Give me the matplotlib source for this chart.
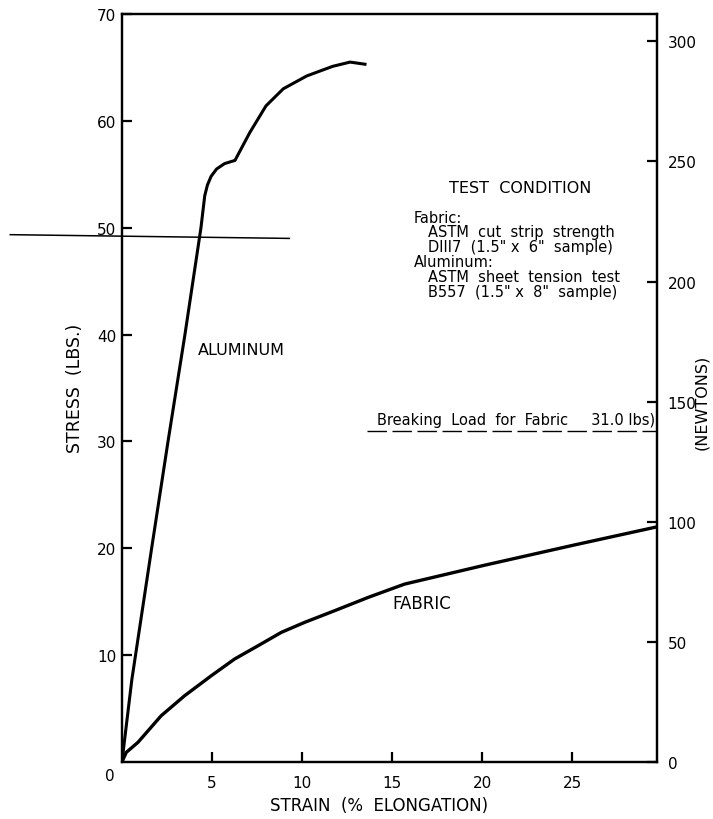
import numpy as np
import matplotlib
matplotlib.use("Agg")
import matplotlib.pyplot as plt

LBS_TO_N = 4.448

# aluminum sheet tension test, strain (%) vs stress (lbs)
alum_strain = [0, 0.55, 1.65, 2.56, 3.5, 4.39, 4.6, 4.75, 4.95, 5.26, 5.7, 6.28,
               7.1, 8.0, 8.96, 10.26, 11.7, 12.67, 13.5]
alum_stress = [0, 7.7, 20, 30, 40, 50, 53.0, 54.0, 54.8, 55.5, 56.0, 56.3,
               58.9, 61.4, 63.0, 64.2, 65.1, 65.5, 65.3]

# fabric cut strip test
fab_strain = [0, 0.24, 0.89, 2.18, 3.48, 4.96, 6.26, 7.56, 8.85, 10.15, 11.8,
              13.67, 15.7, 20.1, 25.1, 29.7]
fab_stress = [0, 0.9, 1.84, 4.33, 6.2, 8.07, 9.64, 10.88, 12.13, 13.07, 14.15,
              15.4, 16.65, 18.4, 20.3, 22.0]

break_load = 31.0
ref_line_x = [-6.2, 9.3]
ref_line_y = [49.35, 49.0]

x_ticks = [5, 10, 15, 20, 25]
y_ticks = [10, 20, 30, 40, 50, 60, 70]
n_ticks = [0, 50, 100, 150, 200, 250, 300]

fig = plt.figure(figsize=(7.13, 8.2), dpi=100)
ax = fig.add_axes([0.171, 0.0695, 0.750, 0.9122])

ax.plot(alum_strain, alum_stress, color="black", lw=2.2, solid_joinstyle="round")
ax.plot(fab_strain, fab_stress, color="black", lw=2.4, solid_joinstyle="round")
ax.plot(ref_line_x, ref_line_y, color="black", lw=1.1, clip_on=False)
ax.plot([13.6, 29.7], [break_load, break_load], color="black", lw=1.0,
        dashes=(14, 4))

ax.set_xlim(0, 29.7)
ax.set_ylim(0, 70)
ax.set_xticks(x_ticks)
ax.set_yticks(y_ticks)
ax.tick_params(direction="in", length=7, width=1.6, labelsize=11, pad=4)
ax.tick_params(axis="x", pad=9)
for s in ax.spines.values():
    s.set_linewidth(1.6)
ax.text(-0.4, -0.6, "0", ha="right", va="top", fontsize=11)

ax2 = ax.twinx()
ax2.set_ylim(0, 70 * LBS_TO_N)
ax2.set_yticks(n_ticks)
ax2.tick_params(direction="in", length=7, width=1.6, labelsize=11, pad=8)
for s in ax2.spines.values():
    s.set_linewidth(1.6)

ax.text(4.2, 38.6, "ALUMINUM", fontsize=11.5, va="center")
ax.text(15.0, 14.9, "FABRIC", fontsize=12, va="center")

ax.text(22.1, 53.8, "TEST  CONDITION", fontsize=11.5, ha="center", va="center")
cond_lines = [("Fabric:", 16.2), ("ASTM  cut  strip  strength", 17.0),
              ("DIII7  (1.5\" x  6\"  sample)", 17.0), ("Aluminum:", 16.2),
              ("ASTM  sheet  tension  test", 17.0), ("B557  (1.5\" x  8\"  sample)", 17.0)]
for i, (txt, xx) in enumerate(cond_lines):
    ax.text(xx, 51.0 - i * 1.4, txt, fontsize=10.5, va="center")

ax.text(29.6, 31.35, "Breaking  Load  for  Fabric     31.0 lbs)", fontsize=10.5,
        ha="right", va="bottom")

fig.text(75 / 713, 1 - 388 / 820, "STRESS  (LBS.)", rotation=90, fontsize=12.5,
         ha="center", va="center")
fig.text(702 / 713, 1 - 402 / 820, "(NEWTONS)", rotation=90, fontsize=11.5,
         ha="center", va="center")
fig.text(379 / 713, 1 - 806 / 820, "STRAIN  (%  ELONGATION)", fontsize=12,
         ha="center", va="center")

fig.savefig("out.png", dpi=100)
